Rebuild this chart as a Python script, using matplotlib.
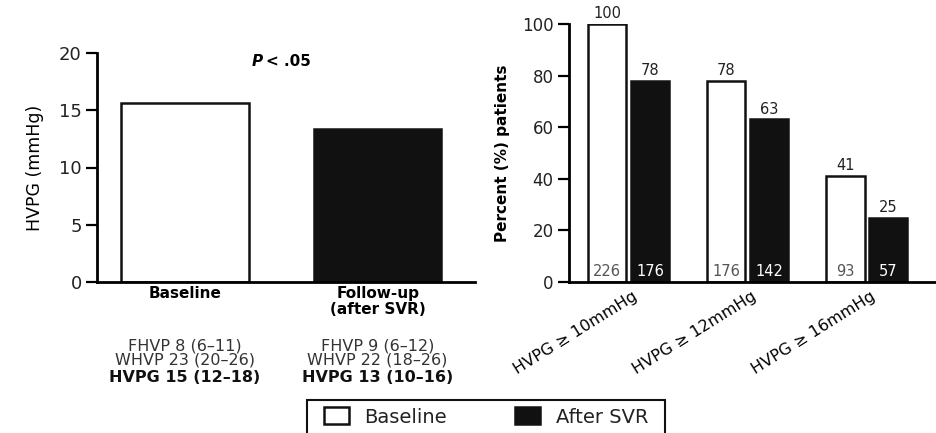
import matplotlib.pyplot as plt
from matplotlib.patches import Rectangle
import numpy as np

plt.rcParams['font.family'] = ['DejaVu Sans']

# Left panel: HVPG before and after SVR
hvpg_groups = ["Baseline", "Follow-up\n(after SVR)"]
hvpg_values = [15.6, 13.4]
hvpg_pressures = [["FHVP 8 (6–11)", "WHVP 23 (20–26)"],
                  ["FHVP 9 (6–12)", "WHVP 22 (18–26)"]]
hvpg_medians = ["HVPG 15 (12–18)", "HVPG 13 (10–16)"]

# Right panel: percent of patients above each HVPG threshold
thresholds = ["HVPG ≥ 10mmHg", "HVPG ≥ 12mmHg", "HVPG ≥ 16mmHg"]
pct_baseline = [100, 78, 41]
pct_after = [78, 63, 25]
n_baseline = [226, 176, 93]
n_after = [176, 142, 57]

W, H = 936, 433
fig = plt.figure(figsize=(W / 100, H / 100), dpi=100)

def px_axes(x0, y0, x1, y1):
    return fig.add_axes([x0 / W, 1 - y1 / H, (x1 - x0) / W, (y1 - y0) / H])

def style_axes(ax):
    for s in ("top", "right"):
        ax.spines[s].set_visible(False)
    ax.spines["left"].set_linewidth(2)
    ax.spines["bottom"].set_linewidth(2)
    ax.tick_params(axis="y", direction="out", length=8, width=1.6, pad=3)
    ax.tick_params(axis="x", length=0)

# ---- left chart
ax1 = px_axes(97, 53, 475, 282)
style_axes(ax1)
x1 = np.arange(len(hvpg_values))
ax1.bar(x1, hvpg_values, width=0.66, color=["white", "#111111"],
        edgecolor="#111111", linewidth=1.8)
ax1.set_xlim(-0.456, 1.505)
ax1.set_ylim(0, 20)
ax1.set_yticks([0, 5, 10, 15, 20])
ax1.tick_params(axis="y", labelsize=13, labelcolor="#222222")
ax1.set_xticks(x1)
ax1.set_xticklabels(hvpg_groups, fontsize=11, fontweight="bold",
                    linespacing=1.05)
ax1.tick_params(axis="x", pad=3)
ax1.set_ylabel("HVPG (mmHg)", fontsize=12.5, labelpad=11)

ax1.annotate("P", xy=(0.42, 19.3), xytext=(-2, 0), textcoords="offset points",
             ha="right", va="center", fontsize=11, fontweight="bold",
             fontstyle="italic")
ax1.annotate("< .05", xy=(0.42, 19.3), xytext=(0, 0), textcoords="offset points",
             ha="left", va="center", fontsize=11, fontweight="bold")

for i in range(len(x1)):
    ax1.annotate("\n".join(hvpg_pressures[i]), xy=(x1[i], 0),
                 xycoords=("data", "axes fraction"), xytext=(0, -71),
                 textcoords="offset pixels", ha="center", va="center",
                 fontsize=11.5, linespacing=0.92, color="#333333")
    ax1.annotate(hvpg_medians[i], xy=(x1[i], 0),
                 xycoords=("data", "axes fraction"), xytext=(0, -96),
                 textcoords="offset pixels", ha="center", va="center",
                 fontsize=11.5, fontweight="bold", color="#111111")

# ---- right chart
ax2 = px_axes(569, 24, 936, 282)
style_axes(ax2)
x2 = np.arange(len(thresholds))
off, bw = 0.18, 0.32
ax2.bar(x2 - off, pct_baseline, width=bw, color="white",
        edgecolor="#111111", linewidth=1.8, label="Baseline")
ax2.bar(x2 + off, pct_after, width=bw, color="#111111",
        edgecolor="#111111", linewidth=1.8, label="After SVR")
ax2.set_xlim(-0.5, 2.58)
ax2.set_ylim(0, 100)
ax2.set_yticks([0, 20, 40, 60, 80, 100])
ax2.tick_params(axis="y", labelsize=12, labelcolor="#222222")
ax2.set_ylabel("Percent (%) patients", fontsize=11, fontweight="bold",
               labelpad=9)
ax2.set_xticks(x2 + 0.03)
ax2.set_xticklabels(thresholds, rotation=32, ha="right",
                    rotation_mode="anchor", fontsize=11.5)
ax2.tick_params(axis="x", pad=5)

for i in range(len(thresholds)):
    ax2.annotate(str(pct_baseline[i]), xy=(x2[i] - off, pct_baseline[i]),
                 xytext=(0, 2), textcoords="offset points",
                 ha="center", va="bottom", fontsize=10.5, color="#222222")
    ax2.annotate(str(pct_after[i]), xy=(x2[i] + off, pct_after[i]),
                 xytext=(0, 2), textcoords="offset points",
                 ha="center", va="bottom", fontsize=10.5, color="#222222")
    ax2.text(x2[i] - off, 4, str(n_baseline[i]), ha="center", va="center",
             fontsize=10.5, color="#555555")
    ax2.text(x2[i] + off, 4, str(n_after[i]), ha="center", va="center",
             fontsize=10.5, color="white")

# legend, with a frame that runs off the bottom edge
fig.patches.append(Rectangle((307 / W, -0.05), (665 - 307) / W,
                             0.05 + 1 - 400 / H, transform=fig.transFigure,
                             fill=False, edgecolor="#111111", linewidth=1.5))
handles, labels = ax2.get_legend_handles_labels()
leg = fig.legend(handles, labels, loc="center",
                 bbox_to_anchor=(486 / W, 1 - 417 / H), ncol=2,
                 fontsize=14, frameon=False, borderpad=0, borderaxespad=0,
                 handlelength=1.3, handleheight=0.95, columnspacing=3.5,
                 handletextpad=0.8)
for t in leg.get_texts():
    t.set_color("#222222")

fig.savefig("out.png", dpi=100)
